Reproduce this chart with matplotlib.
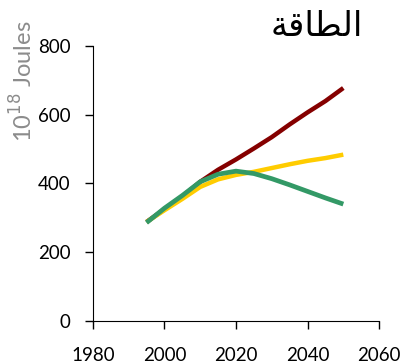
import matplotlib.pyplot as plt

# energy use scenarios, 10^18 J
years = [1995, 2000, 2005, 2010, 2015, 2020, 2025, 2030, 2035, 2040, 2045, 2050]
red = [288, 325, 362, 405, 440, 470, 502, 535, 572, 607, 640, 678]
yellow = [288, 322, 355, 390, 412, 425, 434, 445, 456, 466, 474, 484]
green = [286, 328, 365, 405, 427, 436, 429, 414, 396, 377, 358, 340]

# "الطاقة" in presentation forms, visual order (no shaping in matplotlib)
title = "\ufe94\ufed7\ufe8e\ufec4\ufedf\ufe8d"

plt.rcParams['font.family'] = ['Lato', 'DejaVu Sans']

fig = plt.figure(figsize=(4.02, 3.63), dpi=100)
ax = fig.add_axes([0.231, 0.116, 0.712, 0.757])

ax.plot(years, red, color='#850000', lw=3.2, solid_capstyle='butt')
ax.plot(years, yellow, color='#ffcc00', lw=3.2, solid_capstyle='butt')
ax.plot(years, green, color='#339966', lw=3.4, solid_capstyle='butt')

ax.set_xlim(1980, 2060)
ax.set_ylim(0, 800)
ax.set_xticks([1980, 2000, 2020, 2040, 2060])
ax.set_yticks([0, 200, 400, 600, 800])
ax.spines['top'].set_visible(False)
ax.spines['right'].set_visible(False)
ax.tick_params(direction='out', length=6, width=1, labelsize=13.5)
ax.tick_params(axis='y', pad=10)
ax.tick_params(axis='x', pad=13)

fig.text(0.058, 0.777, "10$^{18}$ Joules", rotation=90, ha='center', va='center',
         color='#8c8c8c', fontsize=17)
fig.text(0.789, 0.928, title, family='DejaVu Sans', fontsize=24.5,
         ha='center', va='center')

fig.savefig('out.png', dpi=100)
